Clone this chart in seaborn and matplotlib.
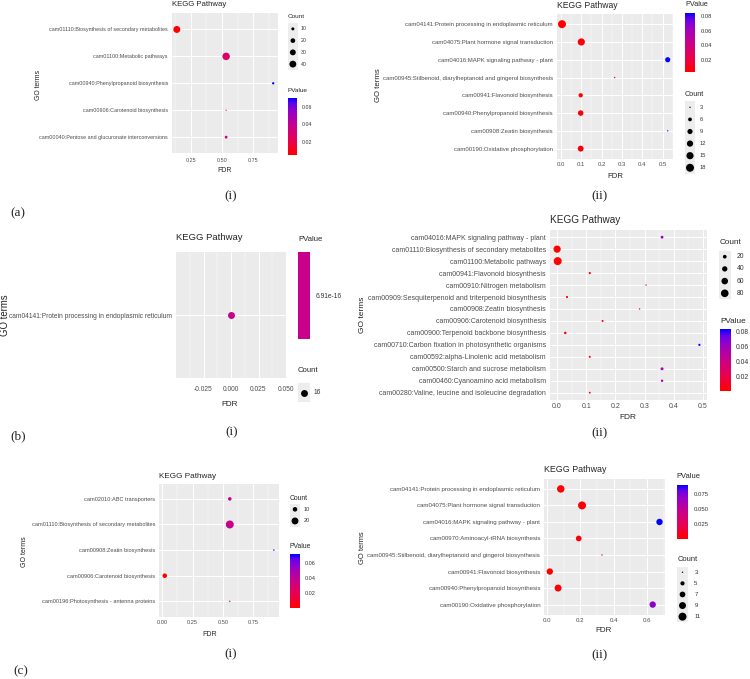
import numpy as np
import pandas as pd
import seaborn as sns
import matplotlib
matplotlib.use("Agg")
import matplotlib.pyplot as plt
from matplotlib import font_manager
from matplotlib.cm import ScalarMappable
from matplotlib.colors import LinearSegmentedColormap, ListedColormap, Normalize
from matplotlib.ticker import FixedLocator
from matplotlib.transforms import blended_transform_factory

# ---------------------------------------
# 1. Data
# ---------------------------------------
a1_terms = ["cam01110:Biosynthesis of secondary metabolites",
            "cam01100:Metabolic pathways",
            "cam00940:Phenylpropanoid biosynthesis",
            "cam00906:Carotenoid biosynthesis",
            "cam00040:Pentose and glucuronate interconversions"]
a1_fdr = [0.139, 0.533, 0.909, 0.533, 0.533]
a1_count = [41, 47, 7, 4, 9]
a1_pval = [0.005, 0.028, 0.070, 0.031, 0.031]
a1_xticks = [0.25, 0.50, 0.75]
a1_count_breaks = [10, 20, 30, 40]
a1_pval_breaks = [0.02, 0.04, 0.06]

a2_terms = ["cam04141:Protein processing in endoplasmic reticulum",
            "cam04075:Plant hormone signal transduction",
            "cam04016:MAPK signaling pathway - plant",
            "cam00945:Stilbenoid, diarylheptanoid and gingerol biosynthesis",
            "cam00941:Flavonoid biosynthesis",
            "cam00940:Phenylpropanoid biosynthesis",
            "cam00908:Zeatin biosynthesis",
            "cam00190:Oxidative phosphorylation"]
a2_fdr = [0.005, 0.100, 0.525, 0.264, 0.097, 0.097, 0.525, 0.097]
a2_count = [18, 15, 9, 3, 7, 10, 3, 11]
a2_pval = [0.0037, 0.006, 0.084, 0.028, 0.006, 0.006, 0.076, 0.006]
a2_xticks = [0.0, 0.1, 0.2, 0.3, 0.4, 0.5]
a2_count_breaks = [3, 6, 9, 12, 15, 18]
a2_pval_breaks = [0.02, 0.04, 0.06, 0.08]

b1_terms = ["cam04141:Protein processing in endoplasmic reticulum"]
b1_fdr = [0.0]
b1_count = [16]
b1_pval = [6.91e-16]
b1_xticks = [-0.025, 0.0, 0.025, 0.050]
b1_count_breaks = [16]
b1_pval_breaks = [6.91e-16]

b2_terms = ["cam04016:MAPK signaling pathway - plant",
            "cam01110:Biosynthesis of secondary metabolites",
            "cam01100:Metabolic pathways",
            "cam00941:Flavonoid biosynthesis",
            "cam00910:Nitrogen metabolism",
            "cam00909:Sesquiterpenoid and triterpenoid biosynthesis",
            "cam00908:Zeatin biosynthesis",
            "cam00906:Carotenoid biosynthesis",
            "cam00900:Terpenoid backbone biosynthesis",
            "cam00710:Carbon fixation in photosynthetic organisms",
            "cam00592:alpha-Linolenic acid metabolism",
            "cam00500:Starch and sucrose metabolism",
            "cam00460:Cyanoamino acid metabolism",
            "cam00280:Valine, leucine and isoleucine degradation"]
b2_fdr = [0.360, 0.0, 0.002, 0.112, 0.305, 0.034, 0.283, 0.156, 0.028, 0.488, 0.112, 0.360, 0.360, 0.112]
b2_count = [12, 72, 88, 8, 4, 8, 4, 7, 10, 8, 7, 13, 9, 6]
b2_pval = [0.060, 0.0013, 0.0015, 0.006, 0.037, 0.004, 0.036, 0.008, 0.003, 0.0827, 0.005, 0.056, 0.056, 0.007]
b2_xticks = [0.0, 0.1, 0.2, 0.3, 0.4, 0.5]
b2_count_breaks = [20, 40, 60, 80]
b2_pval_breaks = [0.02, 0.04, 0.06, 0.08]

c1_terms = ["cam02010:ABC transporters",
            "cam01110:Biosynthesis of secondary metabolites",
            "cam00908:Zeatin biosynthesis",
            "cam00906:Carotenoid biosynthesis",
            "cam00196:Photosynthesis - antenna proteins"]
c1_fdr = [0.557, 0.557, 0.920, 0.021, 0.557]
c1_count = [7, 26, 3, 10, 3]
c1_pval = [0.036, 0.036, 0.0714, 0.0004, 0.029]
c1_xticks = [0.0, 0.25, 0.50, 0.75]
c1_count_breaks = [10, 20]
c1_pval_breaks = [0.02, 0.04, 0.06]

c2_terms = ["cam04141:Protein processing in endoplasmic reticulum",
            "cam04075:Plant hormone signal transduction",
            "cam04016:MAPK signaling pathway - plant",
            "cam00970:Aminoacyl-tRNA biosynthesis",
            "cam00945:Stilbenoid, diarylheptanoid and gingerol biosynthesis",
            "cam00941:Flavonoid biosynthesis",
            "cam00940:Phenylpropanoid biosynthesis",
            "cam00190:Oxidative phosphorylation"]
c2_fdr = [0.082, 0.210, 0.676, 0.190, 0.330, 0.016, 0.066, 0.635]
c2_count = [10, 11, 8, 7, 3, 8, 9, 8]
c2_pval = [0.002, 0.003, 0.0899, 0.003, 0.023, 0.00025, 0.001, 0.072]
c2_xticks = [0.0, 0.2, 0.4, 0.6]
c2_count_breaks = [3, 5, 7, 9, 11]
c2_pval_breaks = [0.025, 0.050, 0.075]

# ---------------------------------------
# 2. Theme
# ---------------------------------------
sns.set_theme(style="darkgrid", rc={"axes.facecolor": "#EBEBEB",
                                    "grid.color": "white",
                                    "axes.edgecolor": "none"})
names = {f.name for f in font_manager.fontManager.ttflist}
SANS = "Liberation Sans Narrow" if "Liberation Sans Narrow" in names else "Liberation Sans"
K = 1.0 if SANS.endswith("Narrow") else 0.82
plt.rcParams["font.family"] = [SANS, "DejaVu Sans"]

# ggplot's red -> blue gradient (interpolated in Lab)
GG = LinearSegmentedColormap.from_list(
    "gg", [(0, "#FF0000"), (0.25, "#E8004F"), (0.5, "#C90089"),
           (0.75, "#9A00C4"), (0.9, "#6500E9"), (1, "#0000FF")])

W, H = 750, 679
fig = plt.figure(figsize=(W / 100, H / 100), dpi=100)
PT = 100 / 72


def box(l, t, r, b):
    return [l / W, 1 - b / H, (r - l) / W, (b - t) / H]


def ftext(x, y, s, **kw):
    fig.text(x / W, 1 - y / H, s, va="center", **kw)


def panel(terms, fdr, count, pval, xticks, xfmt, cbreaks, pbreaks, pfmt, g):
    ax = fig.add_axes(box(*g["box"]))
    df = pd.DataFrame({"Term": terms, "FDR": fdr, "Count": count, "PValue": pval})

    lo_p, hi_p = min(pval), max(pval)
    if lo_p == hi_p:
        cmap = ListedColormap([GG(0.5)])
        pnorm = (lo_p * 0.5, hi_p * 1.5)
    else:
        cmap = GG
        pnorm = (lo_p, hi_p)
    cnorm = (min(count), max(count))

    sns.scatterplot(data=df, x="FDR", y="Term", hue="PValue", size="Count",
                    palette=cmap, hue_norm=pnorm, sizes=g["sizes"], size_norm=cnorm,
                    linewidth=0, legend=False, ax=ax, zorder=3)

    span = max(fdr) - min(fdr)
    if span == 0:
        xlim = (fdr[0] - 0.05, fdr[0] + 0.05)
    else:
        xlim = (min(fdr) - 0.05 * span, max(fdr) + 0.05 * span)
    ax.set_xlim(*xlim)
    ax.set_ylim(len(terms) - 0.4, -0.6)

    step = xticks[1] - xticks[0]
    minor = np.arange(xticks[0] - step / 2, xlim[1], step)
    minor = minor[minor > xlim[0]]
    ax.xaxis.set_major_locator(FixedLocator(xticks))
    ax.xaxis.set_minor_locator(FixedLocator(minor))
    ax.set_xticklabels([xfmt.format(v) for v in xticks])
    ax.grid(which="major", color="white", lw=0.7)
    ax.grid(which="minor", axis="x", color="white", lw=0.35)
    ax.set_axisbelow(True)
    for sp in ax.spines.values():
        sp.set_visible(False)
    ax.set_xlabel("")
    ax.set_ylabel("")
    ax.tick_params(axis="both", which="major", length=1.4, width=0.5, color="#333333",
                   labelsize=g["lab"] * K, labelcolor="#4D4D4D")
    ax.tick_params(axis="x", which="minor", length=0)
    ax.tick_params(axis="y", pad=g["ypad"])
    ax.tick_params(axis="x", pad=g["xpad"])

    # titles
    ftext(*g["title_xy"], "KEGG Pathway", ha="left", fontsize=g["title"] * K)
    ftext(*g["xlab_xy"], "FDR", ha="center", fontsize=g["axis"] * K)
    ftext(*g["ylab_xy"], "GO terms", ha="center", rotation=90,
          fontsize=g.get("yaxis", g["axis"]) * K, color="#222222")

    # Count legend (size keys)
    kl, kt, kr, kb = g["keybox"]
    kax = fig.add_axes(box(kl, kt, kr, kb))
    n = len(cbreaks)
    kax.set_xlim(0, 1)
    kax.set_ylim(n, 0)
    kax.set_facecolor("#EDEDED")
    kax.grid(False)
    kax.set_xticks([])
    kax.set_yticks([])
    for sp in kax.spines.values():
        sp.set_visible(False)
    lo_s, hi_s = g["sizes"]
    cspan = cnorm[1] - cnorm[0]
    svals = [lo_s + (c - cnorm[0]) / cspan * (hi_s - lo_s) if cspan else lo_s for c in cbreaks]
    kax.scatter(np.full(n, 0.5), np.arange(n) + 0.5, s=svals, color="black",
                linewidths=0, clip_on=False)
    tr = blended_transform_factory(fig.transFigure, kax.transData)
    for i, c in enumerate(cbreaks):
        kax.text(g["keytext_x"] / W, i + 0.5, str(c), transform=tr, ha="left", va="center",
                 fontsize=g["ltext"] * K, color="#333333")
    ftext(*g["keytitle_xy"], "Count", ha="left", fontsize=g["ltitle"] * K)

    # PValue colour bar
    bl, bt, br, bb = g["bar"]
    cax = fig.add_axes(box(bl, bt, br, bb))
    cb = fig.colorbar(ScalarMappable(norm=Normalize(*pnorm), cmap=cmap), cax=cax)
    cb.set_ticks(pbreaks)
    cb.set_ticklabels([pfmt.format(v) for v in pbreaks])
    cb.outline.set_visible(False)
    cax.grid(False)
    cax.minorticks_off()
    cax.tick_params(which="major", left=True, right=True, labelleft=False, labelright=True,
                    direction="in", length=(br - bl) / 5 / PT, width=0.6, color="white",
                    labelsize=g["ltext"] * K, labelcolor="#333333",
                    pad=(g["bartext_x"] - br) / PT + (br - bl) / 5 / PT)
    ftext(*g["bartitle_xy"], "PValue", ha="left", fontsize=g["ltitle"] * K)
    return ax


GEOM = {
    "a1": dict(box=(172, 13.3, 278, 153.3), sizes=(0.8, 29), lab=4.75, title=6.8, axis=6.0,
               ltitle=5.6, ltext=4.6, ypad=1.5, xpad=2.2,
               title_xy=(172, 5), xlab_xy=(225, 171), ylab_xy=(38, 85),
               keybox=(288, 23, 297.7, 70), keytitle_xy=(288, 16), keytext_x=301,
               bar=(288, 98, 297, 155), bartitle_xy=(288, 90), bartext_x=300),
    "a2": dict(box=(556.7, 13.5, 673, 159.3), sizes=(1, 33), lab=5.3, title=7.6, axis=6.8,
               ltitle=6.4, ltext=5.1, ypad=1.5, xpad=0.5,
               title_xy=(557, 5), xlab_xy=(615, 176), ylab_xy=(378, 85),
               keybox=(685, 101.3, 695, 173.8), keytitle_xy=(685, 94.3), keytext_x=699.5,
               bar=(685, 13, 695, 72), bartitle_xy=(685, 5), bartext_x=699),
    "b1": dict(box=(176, 251.7, 286, 378.3), sizes=(25, 25), lab=5.8, title=8.3, axis=7.1,
               yaxis=8.5, ltitle=6.8, ltext=5.8, ypad=1.5, xpad=4.3,
               title_xy=(176, 238), xlab_xy=(230, 405), ylab_xy=(5, 315),
               keybox=(298, 383, 310, 402), keytitle_xy=(298, 371), keytext_x=314,
               bar=(297.7, 251.7, 310, 339), bartitle_xy=(298, 239), bartext_x=313),
    "b2": dict(box=(550, 230, 706.5, 399.9), sizes=(1, 33), lab=6.1, title=8.8, axis=7.4,
               ltitle=7.2, ltext=5.9, ypad=1.5, xpad=0.6,
               title_xy=(550, 220), xlab_xy=(628, 417.3), ylab_xy=(363, 315),
               keybox=(719, 250.6, 730.5, 299.4), keytitle_xy=(720, 242.7), keytext_x=736.7,
               bar=(720, 329, 730.7, 390.7), bartitle_xy=(720, 321.7), bartext_x=734),
    "c1": dict(box=(159.3, 483.5, 279.3, 616.7), sizes=(1, 33), lab=5.0, title=7.2, axis=6.2,
               ltitle=5.9, ltext=4.8, ypad=1.5, xpad=1.0,
               title_xy=(159.3, 476), xlab_xy=(210, 634.3), ylab_xy=(24, 551.7),
               keybox=(290, 503.5, 300, 526.8), keytitle_xy=(290, 498.3), keytext_x=304,
               bar=(290, 554, 300, 608), bartitle_xy=(289.3, 546.7), bartext_x=303),
    "c2": dict(box=(544.3, 479, 665, 614.5), sizes=(1, 33), lab=5.4, title=7.8, axis=7.0,
               yaxis=6.6, ltitle=6.6, ltext=5.3, ypad=1.5, xpad=1.0,
               title_xy=(544.3, 469), xlab_xy=(603.3, 631), ylab_xy=(363, 548),
               keybox=(676.7, 566.7, 688.3, 622.2), keytitle_xy=(677.3, 559.3), keytext_x=694.3,
               bar=(676.7, 485, 688.3, 539.3), bartitle_xy=(676.7, 476.7), bartext_x=691.7),
}

# ---------------------------------------
# 3. Panels
# ---------------------------------------
panel(a1_terms, a1_fdr, a1_count, a1_pval, a1_xticks, "{:.2f}",
      a1_count_breaks, a1_pval_breaks, "{:.2f}", GEOM["a1"])
panel(a2_terms, a2_fdr, a2_count, a2_pval, a2_xticks, "{:.1f}",
      a2_count_breaks, a2_pval_breaks, "{:.2f}", GEOM["a2"])
panel(b1_terms, b1_fdr, b1_count, b1_pval, b1_xticks, "{:.3f}",
      b1_count_breaks, b1_pval_breaks, "{:.2e}", GEOM["b1"])
panel(b2_terms, b2_fdr, b2_count, b2_pval, b2_xticks, "{:.1f}",
      b2_count_breaks, b2_pval_breaks, "{:.2f}", GEOM["b2"])
panel(c1_terms, c1_fdr, c1_count, c1_pval, c1_xticks, "{:.2f}",
      c1_count_breaks, c1_pval_breaks, "{:.2f}", GEOM["c1"])
panel(c2_terms, c2_fdr, c2_count, c2_pval, c2_xticks, "{:.1f}",
      c2_count_breaks, c2_pval_breaks, "{:.3f}", GEOM["c2"])

# ---------------------------------------
# 4. Sub-figure labels
# ---------------------------------------
SERIF = dict(family="Liberation Serif", fontsize=9.5, ha="center")
for (x, y), s in [((231, 196.7), "(i)"), ((599.3, 196.7), "(ii)"), ((18, 213), "(a)"),
                  ((232, 432), "(i)"), ((599.3, 433.3), "(ii)"), ((18, 436), "(b)"),
                  ((231, 654.3), "(i)"), ((599.3, 655), "(ii)"), ((20.7, 671.7), "(c)")]:
    ftext(x, y, s, **SERIF)

fig.savefig("out.png", dpi=100)
